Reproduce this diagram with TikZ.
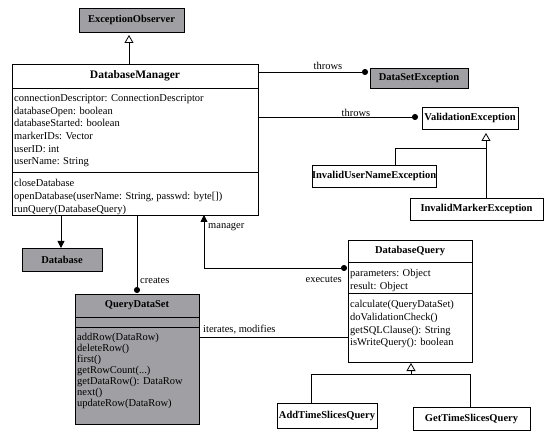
\documentclass[tikz,border=0pt]{standalone}
\usepackage{fontspec}
\setmainfont{Liberation Serif}
\usetikzlibrary{arrows.meta,calc}
\definecolor{umlgray}{RGB}{160,160,164}
\begin{document}
\begin{tikzpicture}[x=1pt,y=-1pt,
  box/.style={draw, line width=0.8pt, inner sep=0pt, outer sep=0pt, anchor=north west,
              font=\bfseries\fontsize{10.5}{12}\selectfont},
  gbox/.style={box, fill=umlgray},
  title/.style={inner sep=0pt, font=\bfseries\fontsize{10.5}{12}\selectfont},
  lines/.style={inner sep=0pt, anchor=north west, align=left, font=\fontsize{10.5}{12.7}\selectfont},
  lbl/.style={inner sep=0pt, font=\fontsize{10.5}{12}\selectfont},
  conn/.style={line width=0.8pt},
  inh/.style={conn, -{Triangle[open, width=9pt, length=8pt]}},
  dotend/.style={conn, -{Circle[length=6pt]}},
  navarrow/.style={conn, -{Triangle[width=7pt, length=7pt]}}
]
\useasboundingbox (0,0) rectangle (549,438);

% ExceptionObserver
\node[gbox, minimum width=105pt, minimum height=24pt] (eo) at (79,8) {ExceptionObserver};

% DatabaseManager
\node[box, minimum width=246pt, minimum height=151pt] (dm) at (12,64) {};
\draw[conn] ($(dm.north west)+(0,24)$) -- ($(dm.north east)+(0,24)$);
\draw[conn] ($(dm.north west)+(0,108)$) -- ($(dm.north east)+(0,108)$);
\node[title, font=\bfseries\fontsize{11.5}{13}\selectfont] (dmtitle) at ($(dm.north)+(0,12)$) {DatabaseManager};
\node[lines] (dmattr) at (14,94.3) {connectionDescriptor: ConnectionDescriptor\\databaseOpen: boolean\\databaseStarted: boolean\\markerIDs: Vector\\userID: int\\userName: String};
\node[lines] (dmops) at (14,179.3) {closeDatabase\\openDatabase(userName: String, passwd: byte[])\\runQuery(DatabaseQuery)};

% DataSetException
\node[gbox, minimum width=98pt, minimum height=20pt] (dse) at (370,68) {DataSetException};

% ValidationException and subclasses
\node[box, minimum width=96pt, minimum height=22pt] (ve) at (422,107) {ValidationException};
\node[box, minimum width=95pt, minimum height=22pt] (iune) at (312,165) {InvalidUserNameException};
\node[box, minimum width=133pt, minimum height=22pt] (ime) at (410,198) {InvalidMarkerException};

% Database
\node[gbox, minimum width=80pt, minimum height=23pt] (db) at (22,248) {Database};

% QueryDataSet
\node[gbox, minimum width=124pt, minimum height=130pt] (qds) at (75,294) {};
\draw[conn] ($(qds.north west)+(0,23)$) -- ($(qds.north east)+(0,23)$);
\draw[conn] ($(qds.north west)+(0,33)$) -- ($(qds.north east)+(0,33)$);
\node[title] (qdstitle) at ($(qds.north)+(0,11.5)$) {QueryDataSet};
\node[lines, font=\fontsize{10.5}{11}\selectfont] (qdsops) at (77,333.3) {addRow(DataRow)\\deleteRow()\\first()\\getRowCount(...)\\getDataRow(): DataRow\\next()\\updateRow(DataRow)};

% DatabaseQuery
\node[box, minimum width=124pt, minimum height=122pt] (dq) at (348,240) {};
\draw[conn] ($(dq.north west)+(0,22)$) -- ($(dq.north east)+(0,22)$);
\draw[conn] ($(dq.north west)+(0,53)$) -- ($(dq.north east)+(0,53)$);
\node[title] (dqtitle) at ($(dq.north)+(0,11)$) {DatabaseQuery};
\node[lines] (dqattr) at (350,269.3) {parameters: Object\\result: Object};
\node[lines] (dqops) at (350,300.3) {calculate(QueryDataSet)\\doValidationCheck()\\getSQLClause(): String\\isWriteQuery(): boolean};

% Subclasses of DatabaseQuery
\node[box, minimum width=100pt, minimum height=25pt] (atsq) at (277,403) {AddTimeSlicesQuery};
\node[box, minimum width=117pt, minimum height=23pt] (gtsq) at (413,407) {GetTimeSlicesQuery};

% ---------- anchor coordinates on the boxes ----------
\coordinate (dmtop)  at ($(dm.north west)+(117,0)$);
\coordinate (dmth1)  at ($(dm.north east)+(0,8)$);
\coordinate (dmth2)  at ($(dm.north east)+(0,53)$);
\coordinate (dmdb)   at ($(dm.south west)+(49,0)$);
\coordinate (dmqds)  at ($(dm.south west)+(125,0)$);
\coordinate (dmmgr)  at ($(dm.south west)+(192,0)$);
\coordinate (dqexe)  at ($(dq.north west)+(0,28)$);
\coordinate (qdsit)  at ($(qds.north east)+(0,43)$);
\coordinate (vebar)  at (486,148);
\coordinate (iunebar) at (395,148);
\coordinate (dqbar)  at (411,374);
\coordinate (atsqbar) at (311,374);
\coordinate (gtsqbar) at (470,374);

% ---------- connectors ----------
\draw[inh, shorten >=3pt] (dmtop) -- (dmtop |- eo.south);

\draw[dotend, shorten >=2pt] (dmth1) -- (dmth1 -| dse.west);
\node[lbl] (throws1) at (328,66) {throws};

\draw[dotend, shorten >=4pt] (dmth2) -- (dmth2 -| ve.west);
\node[lbl] (throws2) at (356,113) {throws};

\draw[inh, shorten >=4pt] (ime.north -| vebar) -- (ve.south -| vebar);
\draw[conn] (iune.north -| iunebar) -- (iunebar) -- (vebar);

\draw[navarrow] (dmdb) -- (dmdb |- db.north);

\draw[dotend, shorten >=1pt] (dmqds) -- (dmqds |- qds.north);
\node[lbl, anchor=west] (creates) at (140,281) {creates};

\draw[conn, {Circle[length=6pt]}-{Triangle[width=7pt, length=7pt]}, shorten <=1pt]
  (dqexe) -| (dmmgr);
\node[lbl, anchor=west] (manager) at (208,227) {manager};
\node[lbl, anchor=east] (executes) at (342,280) {executes};

\draw[conn] (qdsit) -- (qdsit -| dq.west);
\node[lbl, anchor=west] (iter) at (203,330) {iterates, modifies};

\draw[inh, shorten >=1pt] (dqbar) -- (dq.south -| dqbar);
\draw[conn] (atsq.north -| atsqbar) -- (atsqbar) -- (gtsqbar) -- (gtsq.north -| gtsqbar);
\end{tikzpicture}
\end{document}
